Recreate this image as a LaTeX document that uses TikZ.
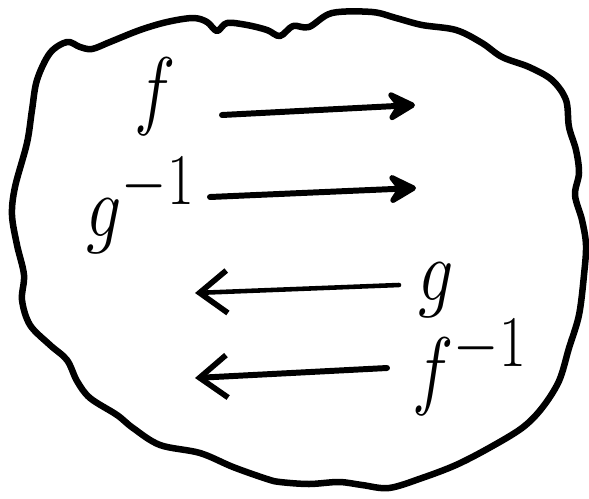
\documentclass[tikz,border=0pt]{standalone}
\usepackage{tikz}
\usetikzlibrary{arrows.meta}
\tikzstyle{blob}=[line width=3.7pt, line join=round]
\tikzstyle{lbl}=[inner sep=0pt, font=\Huge, xscale=1.6, yscale=2.0]
\tikzstyle{ar}=[-{Stealth[length=7mm, width=7.5mm, inset=2.6mm, round]}, line width=3.4pt, line cap=round]
\tikzstyle{arb}=[-{Straight Barb[length=5.5mm, width=8.5mm, line width=3.2pt]}, line width=3.4pt, line cap=round]

\begin{document}
\begin{tikzpicture}[x=0.02cm, y=-0.02cm]
    \useasboundingbox (0,0) rectangle (589,498);
    % the wavy set
    \draw[blob] plot[smooth cycle, tension=0.55] coordinates {
      (50,53) (67,42) (80,47) (92,49) (110,42) (140,30) (167,22) (193,18)
      (207,22) (217,31) (227,23) (247,25) (267,30) (280,36) (293,26) (309,27)
      (332,13) (372,12) (396,18) (422,25) (456,30) (482,43) (502,57) (529,67)
      (552,80) (566,100) (569,127) (576,150) (579,173) (575,195) (582,220)
      (586,245) (584,275) (579,315) (569,348) (559,381) (542,408) (522,428)
      (489,448) (456,465) (422,478) (389,488) (362,485) (339,482) (309,484)
      (280,482) (267,479) (233,467) (200,453) (160,445) (133,428) (117,415)
      (90,398) (77,381) (67,360) (50,345) (30,325) (22,300) (24,275) (17,245)
      (12,215) (15,187) (27,143) (32,110) (37,80)};
    % labels
    \node[lbl, anchor=base]      (f)    at (155,118) {$f$};
    \node[lbl, anchor=base west] (ginv) at (86,236) {$g^{-1}$};
    \node[lbl, anchor=base]      (g)    at (436,300) {$g$};
    \node[lbl, anchor=base west] (finv) at (412,398) {$f^{-1}$};
    % arrow ends
    \coordinate (fa) at (222,115);  \coordinate (fb) at (415,105);
    \coordinate (ga) at (210,197);  \coordinate (gb) at (416,188);
    \coordinate (ha) at (399,285);  \coordinate (hb) at (195,293);
    \coordinate (ka) at (387,368);  \coordinate (kb) at (195,378);
    \draw[ar] (fa)--(fb);
    \draw[ar] (ga)--(gb);
    \draw[arb, line width=2.6pt] (ha)--(hb);
    \draw[arb] (ka)--(kb);
  \end{tikzpicture}
\end{document}
